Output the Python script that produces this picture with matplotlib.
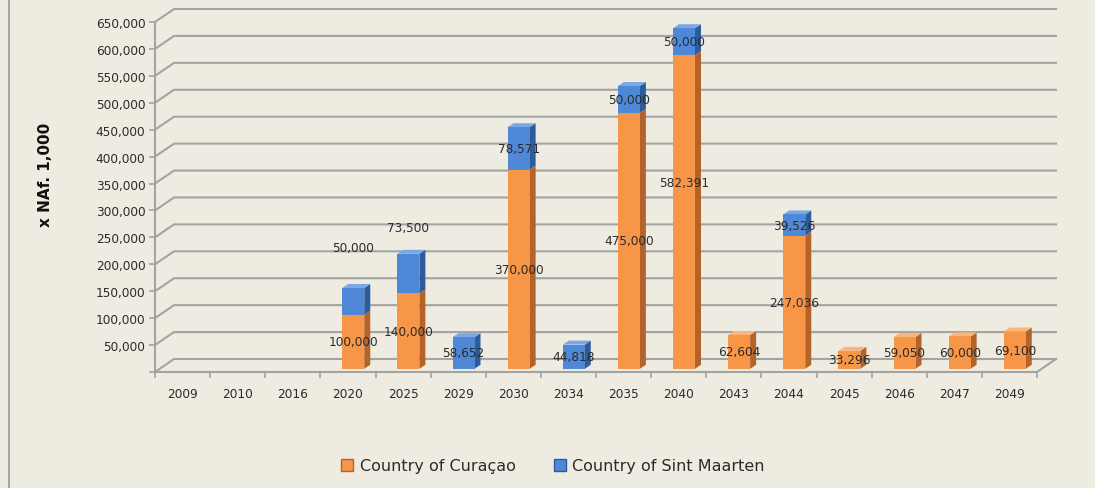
import matplotlib
matplotlib.use("Agg")
import matplotlib.pyplot as plt
from matplotlib.patches import Polygon, Patch
from matplotlib.lines import Line2D

# --- dati ---
years = ['2009', '2010', '2016', '2020', '2025', '2029', '2030', '2034',
         '2035', '2040', '2043', '2044', '2045', '2046', '2047', '2049']
curacao = [0, 0, 0, 100000, 140000, 0, 370000, 0,
           475000, 582391, 62604, 247036, 33296, 59050, 60000, 69100]
sint_maarten = [0, 0, 0, 50000, 73500, 58652, 78571, 44818,
                50000, 50000, 0, 39526, 0, 0, 0, 0]
y_ticks = list(range(0, 650001, 50000))
series_names = ['Country of Curaçao', 'Country of Sint Maarten']

BG = '#EEECE1'
GRID = '#A3A3A3'
TXT = '#2B2B2B'
ORANGE = ('#F79646', '#B4632B', '#FBB57C')  # fronte, lato, sopra
BLUE = ('#4F88D6', '#2D5C9C', '#7AA8E6')

W, H = 1095, 489
x0, x1, yb, yt = 155, 1037, 373, 23  # piano frontale in pixel

fig = plt.figure(figsize=(W / 100, H / 100), dpi=100, facecolor=BG)
ax = fig.add_axes([x0 / W, 1 - yb / H, (x1 - x0) / W, (yb - yt) / H])
ax.set_facecolor('none')
n = len(years)
ax.set_xlim(-0.5, n - 0.5)
ax.set_ylim(0, y_ticks[-1])
for s in ax.spines.values():
    s.set_visible(False)

# conversione pixel -> unità dati
px_x = n / (x1 - x0)
px_y = y_ticks[-1] / (yb - yt)
ddx, ddy = 19 * px_x, 13 * px_y   # profondità del pavimento
bdx, bdy = 6 * px_x, 4 * px_y     # profondità della singola barra
off_x, off_y = 0.28 * ddx, 0.25 * ddy
bw = 22 * px_x

# pareti: griglia sul fondo + diagonali a sinistra
for v in y_ticks:
    ax.plot([-0.5, -0.5 + ddx, n - 0.5 + ddx], [v, v + ddy, v + ddy],
            color=GRID, lw=1.5, clip_on=False, zorder=1)
ax.plot([-0.5, -0.5], [0, y_ticks[-1]], color=GRID, lw=1.5, clip_on=False, zorder=1)
ax.plot([-0.5, n - 0.5, n - 0.5 + ddx], [0, 0, ddy], color=GRID, lw=1.5,
        clip_on=False, zorder=1)


def faces(x, bottom, h, cols, z):
    l = x - bw / 2 + off_x
    b = bottom + off_y
    r, t = l + bw, b + h
    ax.add_patch(Polygon([(r, b), (r + bdx, b + bdy), (r + bdx, t + bdy), (r, t)],
                         closed=True, fc=cols[1], ec='none', zorder=z, clip_on=False))
    ax.add_patch(Polygon([(l, t), (l + bdx, t + bdy), (r + bdx, t + bdy), (r, t)],
                         closed=True, fc=cols[2], ec='none', zorder=z, clip_on=False))


xs = list(range(n))
for i in xs:
    if curacao[i] > 0:
        faces(i, 0, curacao[i], ORANGE, 2)
    if sint_maarten[i] > 0:
        faces(i, curacao[i], sint_maarten[i], BLUE, 4)
ax.bar([x + off_x for x in xs], curacao, bw, bottom=off_y, color=ORANGE[0],
       zorder=3, clip_on=False)
ax.bar([x + off_x for x in xs], sint_maarten, bw,
       bottom=[c + off_y for c in curacao], color=BLUE[0], zorder=5, clip_on=False)

# etichette dati (alcune spostate a mano come nell'originale, in pixel)
nudge = {('cu', 9): 29, ('sm', 3): 54, ('sm', 4): 46}
for i in xs:
    for key, base, v in (('cu', 0, curacao[i]), ('sm', curacao[i], sint_maarten[i])):
        if v <= 0:
            continue
        ax.annotate(f"{v:,}", (i + off_x, base + v / 2 + off_y),
                    xytext=(0, nudge.get((key, i), 0) * 0.72), textcoords='offset points',
                    ha='center', va='center', fontsize=8.7, color=TXT, zorder=10)

# assi
ax.set_yticks(y_ticks)
ax.set_yticklabels([''] + [f"{v:,}" for v in y_ticks[1:]])
ax.set_xticks(xs)
ax.set_xticklabels(years)
ax.set_xticks([x - 0.5 for x in range(n + 1)], minor=True)
ax.tick_params(axis='y', length=4, width=1.2, color=GRID, pad=3, labelsize=8.7, labelcolor=TXT)
ax.tick_params(axis='x', which='major', length=0, pad=11, labelsize=8.7, labelcolor=TXT)
ax.tick_params(axis='x', which='minor', length=4, width=1.2, color=GRID)

fig.text(45 / W, 1 - 175 / H, 'x NAf. 1,000', rotation=90, fontweight='bold',
         fontsize=11, ha='center', va='center', color='#111111')

handles = [Patch(fc=ORANGE[0], ec=ORANGE[1]), Patch(fc=BLUE[0], ec=BLUE[1])]
fig.legend(handles, series_names, loc='center', bbox_to_anchor=(553 / W, 1 - 467 / H),
           ncol=2, frameon=False, fontsize=11.5, handlelength=0.75, handleheight=0.75,
           columnspacing=2.4, handletextpad=0.4, labelcolor=TXT)

fig.add_artist(Line2D([9 / W, 9 / W], [0, 1], color='#9A9A9A', lw=1.2))

fig.savefig('out.png', dpi=100, facecolor=BG)
